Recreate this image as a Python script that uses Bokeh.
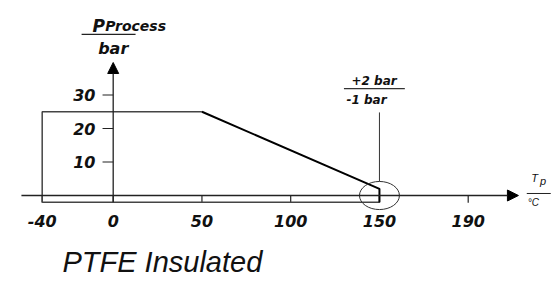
from bokeh.plotting import figure
from bokeh.models import Range1d, Arrow, NormalHead
from bokeh.core.properties import value
from bokeh.embed import file_html
from bokeh.resources import INLINE

# ---- data ----
x_ticks = [-40, 0, 50, 100, 150, 200]
x_tick_labels = ["-40", "0", "50", "100", "150", "190"]
y_ticks = [10, 20, 30]
y_tick_labels = ["10", "20", "30"]

# operating limit outline (temperature °C, pressure bar)
limit_temp = [-40, -40, 50, 150, 150]
limit_pressure = [-2, 25, 25, 2, -2]

tol_label_top = "+2 bar"
tol_label_bottom = "-1 bar"
caption = "PTFE Insulated"

FONT = value("Liberation Sans")
DFONT = value("DejaVu Sans")

p = figure(width=551, height=281, output_backend="svg", toolbar_location=None,
           x_range=Range1d(-63.49, 246.93), y_range=Range1d(-25.67, 58.21),
           x_axis_type=None, y_axis_type=None, min_border=0,
           outline_line_color=None)
p.min_border_left = p.min_border_right = p.min_border_top = p.min_border_bottom = 0
p.background_fill_color = "white"

# axes with arrows
p.add_layout(Arrow(end=NormalHead(size=11, fill_color="black", line_color="black"),
                   x_start=-51.7, y_start=0, x_end=228.3, y_end=0,
                   line_color="#222", line_width=1.3))
p.add_layout(Arrow(end=NormalHead(size=11, fill_color="black", line_color="black"),
                   x_start=0, y_start=-2, x_end=0, y_end=39.7,
                   line_color="#222", line_width=1.3))

# ticks
p.segment(x0=x_ticks, y0=[0] * len(x_ticks), x1=x_ticks, y1=[-2.2] * len(x_ticks),
          line_color="#222", line_width=1.2)
p.segment(x0=[-6] * len(y_ticks), y0=y_ticks, x1=[0] * len(y_ticks), y1=y_ticks,
          line_color="#222", line_width=1.2)

# tick labels
p.text(x=x_ticks, y=[-7.5] * len(x_ticks), text=x_tick_labels, text_font=DFONT,
       text_font_style="bold italic", text_font_size="16px", text_align="center",
       text_baseline="middle", text_color="#111")
p.text(x=[-10] * len(y_ticks), y=y_ticks, text=y_tick_labels, text_font=DFONT,
       text_font_style="bold italic", text_font_size="16px", text_align="right",
       text_baseline="middle", text_color="#111")

# limit outline
p.line(limit_temp[:3], limit_pressure[:3], line_color="#444", line_width=1.5)
p.line([limit_temp[4], limit_temp[0]], [limit_pressure[4], limit_pressure[0]],
       line_color="#444", line_width=1.5)
p.line(limit_temp[2:], limit_pressure[2:], line_color="black", line_width=2)

# tolerance marker: ellipse and leader line
p.ellipse(x=[150], y=[0], width=22.5, height=8.4, fill_color=None,
          line_color="#333", line_width=1)
p.segment(x0=[150], y0=[4.2], x1=[150], y1=[24.8], line_color="#333", line_width=1)
p.text(x=[147], y=[34.3], text=[tol_label_top], text_font=DFONT,
       text_font_style="bold italic", text_font_size="12px", text_align="center",
       text_baseline="middle", text_color="#111")
p.segment(x0=[130], y0=[31.9], x1=[164.3], y1=[31.9], line_color="#333", line_width=1.2)
p.text(x=[142.7], y=[28.6], text=[tol_label_bottom], text_font=DFONT,
       text_font_style="bold italic", text_font_size="12px", text_align="center",
       text_baseline="middle", text_color="#111")

# y axis title
p.text(x=[-11.7], y=[50.7], text=["P"], text_font=DFONT, text_font_style="bold italic",
       text_font_size="17px", text_align="left", text_baseline="alphabetic",
       text_color="#111")
p.text(x=[-4.5], y=[50.7], text=["Process"], text_font=DFONT, text_font_style="bold italic",
       text_font_size="14px", text_align="left", text_baseline="alphabetic",
       text_color="#111")
p.segment(x0=[-17.8], y0=[48.1], x1=[12.6], y1=[48.1], line_color="#222", line_width=1.3)
p.text(x=[0], y=[44.0], text=["bar"], text_font=DFONT, text_font_style="bold italic",
       text_font_size="16px", text_align="center", text_baseline="middle",
       text_color="#111")

# x axis title
p.text(x=[235.5], y=[5.3], text=["T"], text_font=FONT, text_font_style="italic",
       text_font_size="11px", text_align="left", text_baseline="middle", text_color="#111")
p.text(x=[240.5], y=[4.4], text=["p"], text_font=FONT, text_font_style="italic",
       text_font_size="11px", text_align="left", text_baseline="middle", text_color="#111")
p.segment(x0=[233], y0=[0.6], x1=[246.5], y1=[0.6], line_color="#222", line_width=1)
p.text(x=[233.5], y=[-2.2], text=["°C"], text_font=FONT, text_font_style="italic",
       text_font_size="10px", text_align="left", text_baseline="middle", text_color="#111")

# caption
p.text(x=[-28.6], y=[-19.8], text=[caption], text_font=FONT, text_font_style="italic",
       text_font_size="29px", text_align="left", text_baseline="middle", text_color="#111")

open("out.html", "w").write(file_html(p, INLINE))
